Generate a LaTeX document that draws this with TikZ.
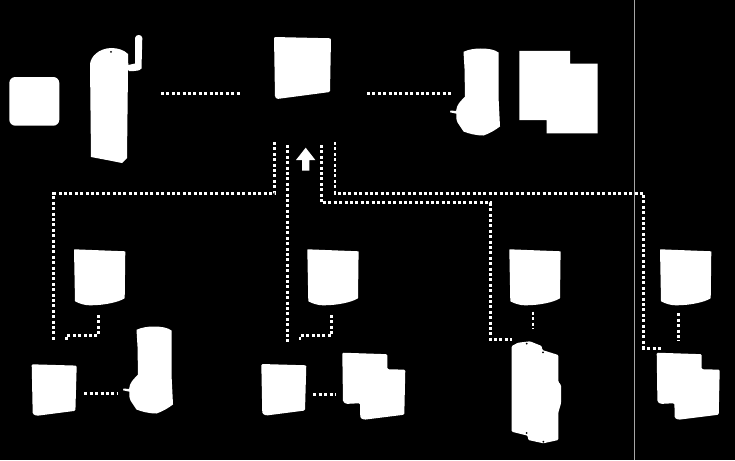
\documentclass[tikz,border=0pt]{standalone}
\tikzset{
  px/.style={x=1pt,y=-1pt},
  solidw/.style={fill=white,draw=none,rounded corners=1.2pt},
  link/.style={draw=white,line width=2.8pt,dash pattern=on 3pt off 2.4pt},
  hole/.style={fill=black,draw=none},
  pics/canister/.style={code={
    \path[fill=white,rounded corners=.5pt] (0,0) -- (51.3,2) -- (50.7,49)
      .. controls (44,53) and (30,56) .. (16,56) .. controls (10,56) and (5,54) .. (1,52) -- cycle;}},
  pics/tablet/.style={code={
    \path[solidw] (0,0) -- (45,1.3) -- (43.7,46.5) -- (5,51.5) -- (1,49.7) -- cycle;}},
  pics/battbox/.style={code={
    \path[fill=white] (0,3.3) .. controls (5,1) and (11,0) .. (17,0) .. controls (25,0) and (31,1) .. (35,4)
      -- (35,48) -- (36.5,78) .. controls (31,82) and (26,85) .. (20,87) .. controls (12,87) and (5,85) .. (0,83)
      -- (-6,74) .. controls (-7.5,70) and (-7.5,68) .. (-7,65.2) -- (-13.5,63.8) -- (-13,62) -- (-7.4,62.5)
      .. controls (-7,56) and (-3,53) .. (1.5,48) -- (1,20) -- cycle;}},
  pics/twotablets/.style={code={
    \path[solidw] (0,0) -- (45,1.5) -- (45,16.5) -- (63,17) -- (62,62) -- (22,67) -- (18,65.3)
      -- (17.7,50.5) -- (4,51.2) -- (.7,49) -- cycle;}}
}
\begin{document}
\begin{tikzpicture}[px]
\useasboundingbox (0,0) rectangle (735,460);
\fill[black] (0,0) rectangle (735,460);
% divider
\coordinate (divT) at (634.5,0);
\coordinate (divB) at (634.5,460);
\draw[gray!70,line width=.8pt] (divT) -- (divB);
% top row
\path[fill=white,rounded corners=6pt] (9.3,77) rectangle (59.3,125.7);
\path[fill=white] (90,64) .. controls (91,56) and (99,48.5) .. (111,48)
  .. controls (118,48) and (124,50) .. (128,54) -- (128.3,65) -- (135,63.5) -- (135,38)
  .. controls (135.5,34) and (142,34) .. (142.3,38) -- (141.5,68.5) .. controls (141,70.5) and (138,70.5) .. (134,71)
  -- (129,71) -- (128,70) -- (127,158) -- (122,163) -- (112,161) -- (91,157) -- cycle;
\fill[hole] (111,51.8) circle (1pt);
\path[solidw] (274,37) -- (331,38.3) -- (330,92) -- (277,99) -- (275,97) -- cycle;
\pic at (463.5,48.5) {battbox};
\path[fill=white] (519.3,51) -- (570,51) -- (570,63.7) -- (597.7,63.7) -- (597.7,133.3)
  -- (546.7,133.3) -- (546.7,120) -- (519.3,120) -- cycle;
\path[fill=white] (305.7,147.7) -- (315.3,160) -- (309.3,160) -- (309.3,170.7) -- (302,170.7)
  -- (302,160) -- (296,160) -- cycle;
% lower row
\pic at (74,249.3) {canister};
\pic at (307.3,249.3) {canister};
\pic at (509.3,249.3) {canister};
\pic at (660,249.3) {canister};
\pic at (31.7,364.3) {tablet};
\pic at (261.3,364) {tablet};
\pic at (136.5,326.5) {battbox};
\pic at (342.3,352.7) {twotablets};
\pic at (656.7,352.7) {twotablets};
\path[fill=white,rounded corners=1pt] (511.7,346) -- (518,342.7) -- (530,341.3) -- (541.7,346)
  -- (542.3,350) -- (558.3,355) -- (558.3,381.7) -- (561,385) -- (561,403.3) -- (558.3,412.7)
  -- (558.3,440) -- (543.3,443.3) -- (528.3,440) -- (527.7,435.7) -- (511.7,431.7) -- cycle;
\foreach \hx/\hy in {526.7/343.7, 543/352.3, 526.7/433, 543.3/441.7}
  \fill[hole] (\hx,\hy) circle (1pt);
% connector ends
\coordinate (a1) at (161,93.3);    \coordinate (a2) at (241,93.3);
\coordinate (b1) at (367,93.3);    \coordinate (b2) at (452,93.3);
\coordinate (c1) at (274.7,142);   \coordinate (c2) at (53.7,193.5);  \coordinate (c3) at (53.7,342);
\coordinate (d1) at (287.2,145);   \coordinate (d2) at (287.2,342);
\coordinate (e1) at (321.3,145);   \coordinate (e2) at (490.4,202.8); \coordinate (e3) at (511.7,339.5);
\coordinate (f1) at (335,142);     \coordinate (f2) at (643.8,193.5); \coordinate (f3) at (661.7,348.3);
\coordinate (g1) at (98.3,315);    \coordinate (g2) at (66.3,335.7);  \coordinate (g3) at (66.3,342);
\coordinate (h1) at (331.7,315);   \coordinate (h2) at (300,335.7);   \coordinate (h3) at (300,342);
\coordinate (i1) at (84.3,393.3);  \coordinate (i2) at (118.3,393.3);
\coordinate (j1) at (313.3,394.3); \coordinate (j2) at (336,394.3);
\coordinate (k1) at (533,311.7);   \coordinate (k2) at (533,329.3);
\coordinate (l1) at (678.7,313.3); \coordinate (l2) at (678.7,341);
% connectors
\draw[link] (a1) -- (a2);
\draw[link] (b1) -- (b2);
\draw[link] (c1) |- (c2) -- (c3);
\draw[link] (d1) -- (d2);
\draw[link] (e1) |- (e2) |- (e3);
\draw[link] (f1) |- (f2) |- (f3);
\draw[link] (g1) |- (g2) -- (g3);
\draw[link] (h1) |- (h2) -- (h3);
\draw[link] (i1) -- (i2);
\draw[link] (j1) -- (j2);
\draw[link] (k1) -- (k2);
\draw[link] (l1) -- (l2);
\end{tikzpicture}
\end{document}
